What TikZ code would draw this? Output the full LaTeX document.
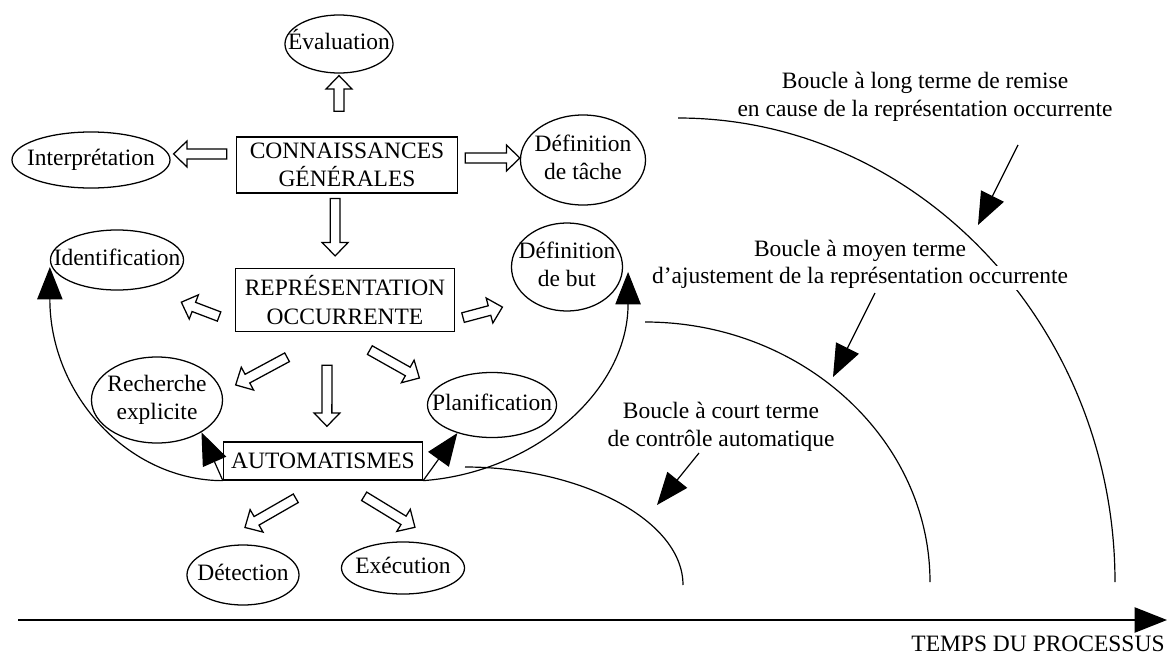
\documentclass[tikz,border=0pt]{standalone}
\usepackage{fontspec}
\setmainfont{Liberation Serif}
\usetikzlibrary{shapes.geometric, arrows.meta, calc, positioning}

% text set inside an ellipse without widening it
\newcommand{\bubtext}[1]{\makebox[0pt]{\begin{tabular}{@{}c@{}}#1\end{tabular}}}

\tikzset{
    bubble/.style={draw, ellipse, inner sep=0pt, line width=0.9pt},
    stage/.style={draw, rectangle, inner sep=0pt, align=center, line width=0.9pt},
    note/.style={align=center, inner sep=1pt},
    feed/.style={line width=0.85pt, -{Triangle[length=23pt, width=18pt]}},
    span/.style={line width=0.85pt},
    % hollow block arrow, #1 = gap at the tail, #2 = gap at the tip
    hollow/.style 2 args={line width=0.9pt, fill=white, line join=miter,
        to path={
            ($(\tikztostart)!#1!(\tikztotarget)!3.5pt!90:(\tikztotarget)$)
            -- ($(\tikztotarget)!#2+9.5pt!(\tikztostart)!3.5pt!90:(\tikztotarget)$)
            -- ($(\tikztotarget)!#2+9.5pt!(\tikztostart)!9.2pt!90:(\tikztotarget)$)
            -- ($(\tikztotarget)!#2!(\tikztostart)$)
            -- ($(\tikztotarget)!#2+9.5pt!(\tikztostart)!9.2pt!-90:(\tikztotarget)$)
            -- ($(\tikztotarget)!#2+9.5pt!(\tikztostart)!3.5pt!-90:(\tikztotarget)$)
            -- ($(\tikztostart)!#1!(\tikztotarget)!3.5pt!-90:(\tikztotarget)$)
            -- cycle}}
}

\begin{document}
\begin{tikzpicture}[x=0.025cm, y=-0.025cm, font=\fontsize{16.7}{20}\selectfont]
    \useasboundingbox (0,0) rectangle (1167,658);

    % General knowledge
    \node[stage, minimum width=5.525cm, minimum height=1.4cm] (conn) at (347,165) {CONNAISSANCES\\GÉNÉRALES};
    \node[bubble, minimum width=2.7cm, minimum height=1.45cm] (eval) at (339,44) {\bubtext{Évaluation}};
    \node[bubble, minimum width=3.95cm, minimum height=1.4cm] (interp) at (91,160) {\bubtext{Interprétation}};
    \node[bubble, minimum width=3.125cm, minimum height=2.25cm] (tache) at (583,160) {\bubtext{Définition\\de tâche}};

    % Occurrent representation
    \node[stage, minimum width=5.475cm, minimum height=1.575cm] (rep) at (345,300) {REPRÉSENTATION\\OCCURRENTE};
    \node[bubble, minimum width=3.325cm, minimum height=1.5cm] (ident) at (117,260) {\bubtext{Identification}};
    \node[bubble, minimum width=2.775cm, minimum height=2.2cm] (but) at (567,267) {\bubtext{Définition\\de but}};
    \node[bubble, minimum width=3.275cm, minimum height=2.15cm] (rech) at (157,400) {\bubtext{Recherche\\explicite}};
    \node[bubble, minimum width=3.225cm, minimum height=1.625cm] (plan) at (492,405) {\bubtext{Planification}};

    % Automatisms
    \node[stage, minimum width=4.975cm, minimum height=0.95cm] (auto) at (323,461) {AUTOMATISMES};
    \node[bubble, minimum width=2.8cm, minimum height=1.5cm] (detect) at (243,575) {\bubtext{Détection}};
    \node[bubble, minimum width=3.075cm, minimum height=1.3cm] (exec) at (403,568) {\bubtext{Exécution}};

    % Hollow arrows
    \draw[hollow={17.8pt}{1.4pt}] (conn.north -| eval.south) to (eval.south);
    \draw[hollow={6.4pt}{2.1pt}] ([yshift=7.8pt]conn.west) to ([yshift=4.3pt]interp.east);
    \draw[hollow={5pt}{0pt}] ([yshift=5pt]conn.east) to ([yshift=1.4pt]tache.west);
    \draw[hollow={3.5pt}{8.5pt}] ([xshift=-8.5pt]conn.south) to ([xshift=-7pt]rep.north);
    \draw[hollow={12pt}{0pt}] ([yshift=-16pt]rep.west) to ([xshift=-2pt,yshift=-30pt]ident.east);
    \draw[hollow={5.8pt}{0pt}] ([yshift=-14pt]rep.east) to ([xshift=-6pt,yshift=-28.5pt]but.west);
    \draw[hollow={37.7pt}{0pt}] ([xshift=-8pt]rep.south) to ([xshift=8.9pt,yshift=10.7pt]rech.east);
    \draw[hollow={23.5pt}{10.7pt}] ([xshift=-12.8pt]rep.south) to ([xshift=2.8pt]auto.north);
    \draw[hollow={26pt}{0pt}] ([xshift=-5pt]rep.south) to ([xshift=-5.3pt,yshift=19.2pt]plan.west);
    \draw[hollow={25.2pt}{0pt}] ([xshift=2.5pt]auto.south) to ([xshift=1.4pt,yshift=12pt]detect.north);
    \draw[hollow={21.4pt}{0pt}] ([xshift=11pt]auto.south) to ([xshift=8.5pt,yshift=10pt]exec.north);

    % Feedback from the automatisms
    \draw[feed] (auto.south west) .. controls +(-94,0) and +(0,128) .. ([yshift=-5pt]ident.west);
    \draw[feed] (auto.south west) -- (rech.324);
    \draw[feed] (auto.south east) -- (plan.219);
    \draw[feed] (auto.south east) .. controls +(110,-8) and +(0,120) .. ([xshift=3.5pt,yshift=-3.5pt]but.east);

    % Loops in time
    \coordinate (short-from) at (465,467);
    \coordinate (short-to) at (683,585);
    \coordinate (mid-from) at (645,322);
    \coordinate (mid-to) at (930,582);
    \coordinate (long-from) at (678,118);
    \coordinate (long-to) at (1115,582);
    \foreach \n/\dx/\dy in {short/115/65, mid/157/143, long/240/255} {
        \draw[span] (\n-from) .. controls +(\dx,0) and +(0,-\dy) .. (\n-to);
    }

    % Loop labels
    \node[note] (longLbl) at (925,97) {Boucle à long terme de remise\\en cause de la représentation occurrente};
    \node[note, fill=white] (midLbl2) at (860,278) {d’ajustement de la représentation occurrente};
    \node[note, above=2pt of midLbl2] (midLbl1) {Boucle à moyen terme};
    \node[note] (shortLbl) at (721,427) {Boucle à court terme\\de contrôle automatique};

    \coordinate (short-tail) at (699,453);
    \coordinate (short-head) at (657,505);
    \coordinate (mid-tail) at (875,293);
    \coordinate (mid-head) at (833,377);
    \coordinate (long-tail) at (1018,145);
    \coordinate (long-head) at (978,225);
    \foreach \n in {short,mid,long} {
        \draw[feed] (\n-tail) -- (\n-head);
    }

    % Time axis
    \coordinate (t0) at (18,620);
    \coordinate (t1) at (1167,620);
    \draw[feed] (t0) -- (t1);
    \node[note, inner sep=0pt] (temps) at (1038,644) {TEMPS DU PROCESSUS};

\end{tikzpicture}
\end{document}
